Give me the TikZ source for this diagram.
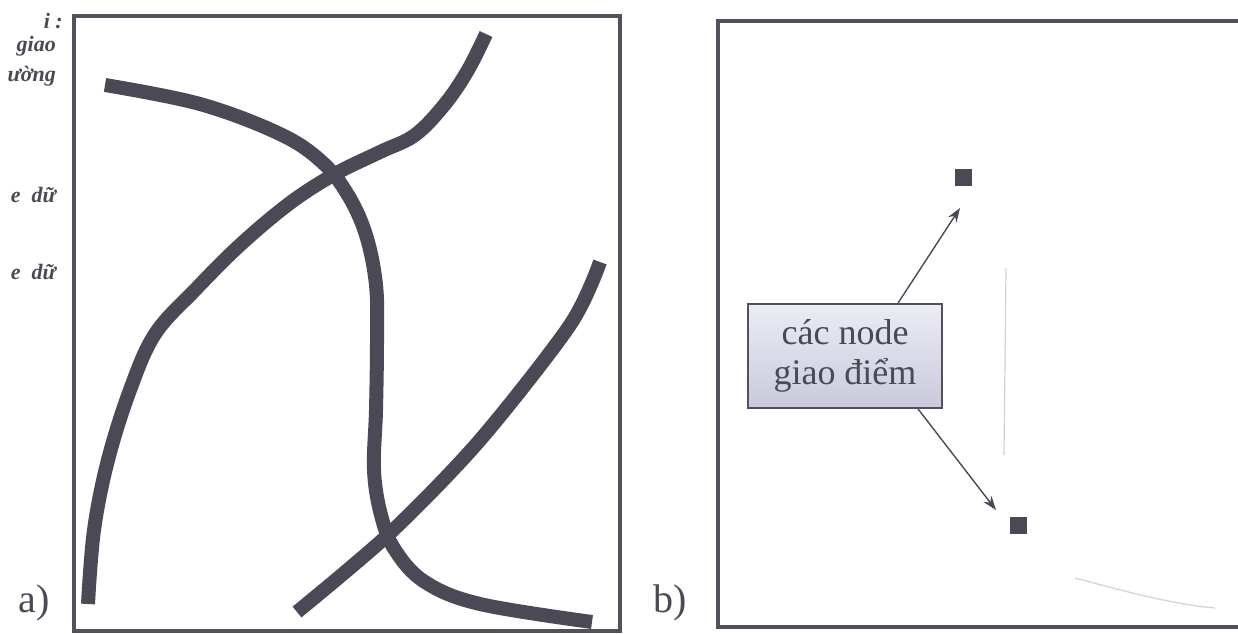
\documentclass[tikz,border=0pt]{standalone}
\usepackage{fontspec}
\setmainfont{Liberation Serif}
\usetikzlibrary{arrows.meta,shapes.geometric}
\definecolor{ink}{HTML}{4A4A57}
\definecolor{frame}{HTML}{52525E}
\definecolor{faint}{HTML}{D2D2D8}
\definecolor{boxtop}{HTML}{ECECF4}
\definecolor{boxbot}{HTML}{C9C9DC}
\tikzset{
  panel/.style={draw=frame,line width=3.5pt},
  road/.style={draw=ink,line width=14pt,line join=round},
  faintline/.style={draw=faint,line width=1.2pt},
  marker/.style={fill=ink,minimum width=17pt,minimum height=17pt,inner sep=0pt},
  labelbox/.style={draw=frame,line width=1.8pt,top color=boxtop,bottom color=boxbot,
    minimum width=194pt,minimum height=104pt,align=center,font=\fontsize{36}{40}\selectfont,text=ink},
  pointer/.style={draw=ink,line width=1.4pt,-{Stealth[length=14pt,width=10pt]}},
  tag/.style={font=\fontsize{40}{42}\selectfont,text=ink},
  margin/.style={font=\bfseries\itshape\fontsize{22}{24}\selectfont,text=ink,anchor=east,inner sep=1pt}
}
\begin{document}
\begin{tikzpicture}[x=1pt,y=-1pt]
\useasboundingbox (0,0) rectangle (1238,633);
\fill[white] (0,0) rectangle (1238,633);

% side notes in the left margin
\node[margin] (m1) at (64,21) {i :};
\node[margin] (m2) at (57,46) {giao};
\node[margin] (m3) at (57,76) {ường};
\node[margin] (m4) at (57,195) {e\enspace dữ};
\node[margin] (m5) at (57,272) {e\enspace dữ};

% panel a: frame and roads
\draw[panel] (74,16) rectangle (620,631);
\draw[road] plot[smooth,tension=0.6] coordinates {
  (105,85) (200,104) (280,134) (322,162) (348,195) (366,235) (376,285)
  (377,340) (376,410) (374,470) (381,515) (395,550) (425,582) (480,604) (592,622)};
\draw[road] plot[smooth,tension=0.6] coordinates {
  (486,34) (468,70) (445,104) (415,135) (380,152) (335,174) (290,203)
  (240,245) (195,290) (155,334) (130,390) (108,460) (94,530) (88,604)};
\draw[road] plot[smooth,tension=0.5] coordinates {
  (297,612) (390,533) (480,440) (570,325) (600,262)};
\node[tag] (ta) at (34,603) {a)};

% panel b: frame, intersection nodes and their label
\draw[panel] (718,21) rectangle (1245,627);
\draw[faintline] (1006,268) -- (1004,455);
\draw[faintline] (1075,578) .. controls (1120,590) and (1170,604) .. (1215,608);
\node[marker] (p1) at (963,177) {};
\node[marker] (p2) at (1018,525) {};
\node[labelbox] (lb) at (845,356) {các node\\giao điểm};
\draw[pointer] (lb.north) ++(53,0) coordinate (s1) -- (960,208) coordinate (e1);
\draw[pointer] (lb.south) ++(73,0) coordinate (s2) -- (996,510) coordinate (e2);
\node[tag] (tb) at (670,603) {b)};
\end{tikzpicture}
\end{document}
